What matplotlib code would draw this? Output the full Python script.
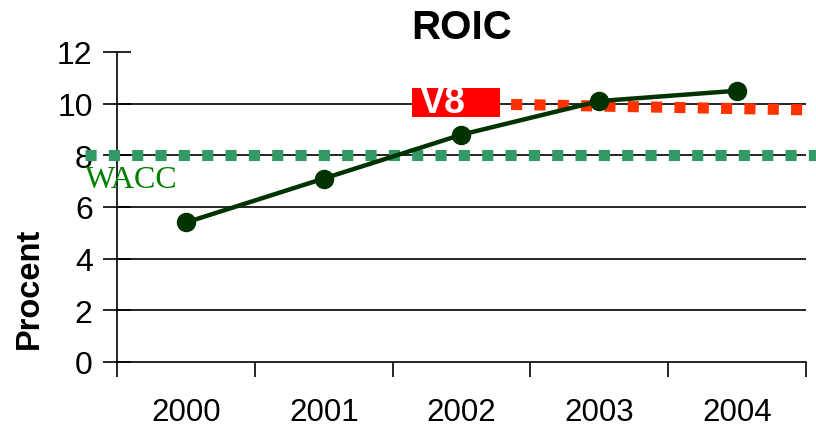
import matplotlib
matplotlib.use('Agg')
import matplotlib.pyplot as plt
from matplotlib.patches import Rectangle

years = ['2000', '2001', '2002', '2003', '2004']
roic = [5.4, 7.1, 8.8, 10.1, 10.5]
# target lines: (x in category units, value)
wacc_x = [-0.23, 5.07]
wacc = [8.0, 8.0]
v8_x = [2.86, 5.0]
v8 = [9.97, 9.76]

plt.rcParams['font.family'] = ['Liberation Sans', 'DejaVu Sans']

fig = plt.figure(figsize=(8.16, 4.27), dpi=100)
ax = fig.add_axes([0.1434, 0.1499, 0.8443, 0.726])

xs = [i + 0.5 for i in range(len(years))]

ax.plot(wacc_x, wacc, color='#339966', lw=8, dashes=(1, 1.1),
        dash_capstyle='butt', clip_on=False, zorder=3)
ax.plot(v8_x, v8, color='#ff3300', lw=8, dashes=(1, 1.1),
        dash_capstyle='butt', clip_on=False, zorder=3)
ax.plot(xs, roic, color='#003300', lw=3.2, marker='o', markersize=13,
        clip_on=False, zorder=4)

ax.text(-0.232, 7.05, 'WACC', color='#008000', fontsize=23,
        family='Liberation Serif', ha='left', va='center', zorder=5)

# V8 label box
box = Rectangle((2.141, 9.49), 0.639, 1.12, fc='#ff0000', ec='none', zorder=5)
ax.add_patch(box)
t = ax.text(2.199, 10.08, 'V8', color='white', fontsize=27, fontweight='bold',
            ha='left', va='center', zorder=6)
t.set_clip_path(box)

ax.set_xlim(0, 5)
ax.set_ylim(0, 12)
ax.set_yticks(range(0, 13, 2))
ax.set_xticks(range(0, 6))
ax.set_xticklabels([])
ax.set_xticks(xs, minor=True)
ax.set_xticklabels(years, minor=True)
ax.tick_params(axis='x', which='major', direction='out', length=11, width=1.2)
ax.tick_params(axis='x', which='minor', length=0, pad=25, labelsize=22.5)
ax.tick_params(axis='y', direction='inout', length=20, width=1.2, labelsize=23, pad=7.5)

for y in range(2, 12, 2):
    ax.axhline(y, color='black', lw=1.2, zorder=1)

for s in ['top', 'right']:
    ax.spines[s].set_visible(False)
for s in ['left', 'bottom']:
    ax.spines[s].set_linewidth(1.2)

ax.set_title('ROIC', fontsize=29, fontweight='bold', pad=10)
ax.set_ylabel('Procent', fontsize=23.5, fontweight='bold')
ax.yaxis.set_label_coords(-0.105, 0.242)

fig.savefig('out.png', dpi=100)
